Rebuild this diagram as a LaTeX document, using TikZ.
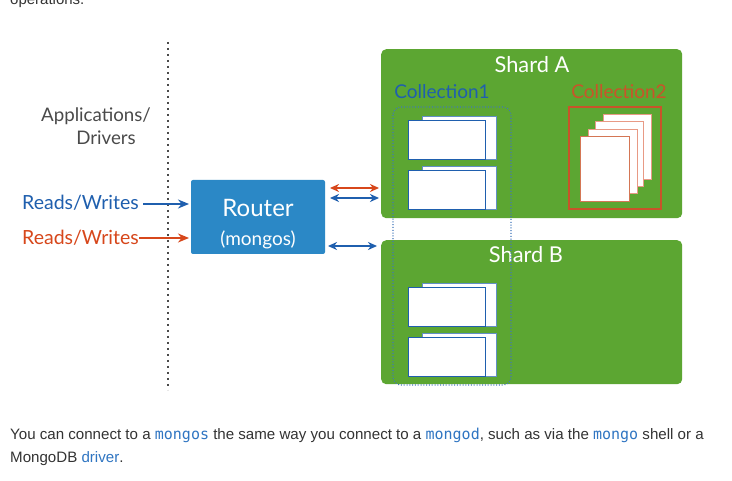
\documentclass[tikz,border=0pt]{standalone}
\usepackage{fontspec}
\setmainfont{Liberation Sans}
\newfontfamily\diagfont{Lato}
\setmonofont{DejaVu Sans Mono}
\usetikzlibrary{arrows.meta}
\definecolor{rtblue}{HTML}{2B88C6}
\definecolor{shgreen}{HTML}{5CA632}
\definecolor{lnblue}{HTML}{1F5FAE}
\definecolor{lnred}{HTML}{D7471B}
\definecolor{c2red}{HTML}{C9542A}
\definecolor{pagered}{HTML}{E89A85}
\definecolor{txtgray}{HTML}{4A4A4A}
\definecolor{bodygray}{HTML}{333333}
\definecolor{codeblue}{HTML}{2F75C2}
\begin{document}
\begin{tikzpicture}[x=1pt,y=-1pt,
  shardbox/.style={fill=shgreen, rounded corners=5pt, draw=none},
  docback/.style={fill=white, draw=lnblue!70, line width=1pt},
  docfront/.style={fill=white, draw=lnblue, line width=1pt},
  pageback/.style={fill=white, draw=pagered, line width=1pt},
  pagefront/.style={fill=white, draw=c2red!80, line width=1pt},
  lbl/.style={font=\diagfont\fontsize{19.5}{22}\selectfont, inner sep=0pt},
  twoway/.style={{Stealth[length=9pt,width=8pt]}-{Stealth[length=9pt,width=8pt]}, line width=1.7pt},
  oneway/.style={-{Stealth[length=11pt,width=9pt]}, line width=2.3pt},
  code/.style={}
]
\useasboundingbox (0,0) rectangle (732,481);
\fill[white] (0,0) rectangle (732,481);

% page text (cut top line)
\node[anchor=base west, inner sep=0pt, text=bodygray, font=\fontsize{15}{17}\selectfont] (ops) at (10,5) {operations.};

% dotted separator
\coordinate (sepTop) at (168,42);
\coordinate (sepBot) at (168,390);
\draw[txtgray, line width=1.8pt, dash pattern=on 2.5pt off 3.5pt] (sepTop) -- (sepBot);

% Applications/Drivers
\node[lbl, text=txtgray, align=center, anchor=north, font=\diagfont\fontsize{18.7}{23}\selectfont] (apps) at (96,108) {Applications/\\\hspace*{20pt}Drivers};

% Router
\node[fill=rtblue, rounded corners=2pt, minimum width=134pt, minimum height=74pt, inner sep=0pt] (router) at (258,217) {};
\node[lbl, text=white, font=\diagfont\fontsize{24}{26}\selectfont] (rt1) at (258,208) {Router};
\node[lbl, text=white, font=\diagfont\fontsize{19}{21}\selectfont] (rt2) at (258,240) {(mongos)};

% Reads/Writes
\node[lbl, text=lnblue, anchor=west] (rw1) at (22,203) {Reads/Writes};
\node[lbl, text=lnred, anchor=west] (rw2) at (22,238) {Reads/Writes};
\coordinate (r1in) at (189,204);
\coordinate (r2in) at (189,238);
\coordinate (rw1s) at (143,204);
\coordinate (rw2s) at (139,238);
\draw[oneway, lnblue] (rw1s) -- (r1in);
\draw[oneway, lnred] (rw2s) -- (r2in);

% Shards
\node[shardbox, minimum width=301pt, minimum height=169pt, inner sep=0pt, anchor=north west] (shA) at (381,49) {};
\node[shardbox, minimum width=301pt, minimum height=144pt, inner sep=0pt, anchor=north west] (shB) at (381,240) {};
\node[lbl, text=white, font=\diagfont\fontsize{21.8}{24}\selectfont] (shAt) at (532,65) {Shard A};
\node[lbl, text=white, font=\diagfont\fontsize{21.8}{24}\selectfont] (shBt) at (526,255) {Shard B};

% router-shard arrows
\coordinate (ra1) at (330,188); \coordinate (sa1) at (379,188);
\coordinate (ra2) at (330,198); \coordinate (sa2) at (379,198);
\coordinate (ra3) at (328,246); \coordinate (sb3) at (377,246);
\draw[twoway, lnred] (ra1) -- (sa1);
\draw[twoway, lnblue] (ra2) -- (sa2);
\draw[twoway, lnblue] (ra3) -- (sb3);

% Collection labels
\node[lbl, text=lnblue, font=\diagfont\fontsize{19}{21}\selectfont] (c1) at (442,92) {Collection1};
\node[lbl, text=c2red, font=\diagfont\fontsize{19}{21}\selectfont] (c2) at (619,92) {Collection2};

% Collection1 chunks
\foreach \y in {117,167,284,334} {
  \draw[docback] (422,\y) rectangle (496,\y+43);
  \draw[docfront] (408,\y+4) rectangle (485,\y+43);
}

% Collection1 dotted outline
\draw[lnblue!85, line width=1.1pt, dash pattern=on 1pt off 1.8pt, rounded corners=8pt] (393,107) rectangle (511,385);

% Collection2
\draw[c2red, line width=1.1pt] (569,107) rectangle (661,209);
\draw[pageback] (603,115) rectangle (651,180);
\draw[pageback] (595,122) rectangle (643,187);
\draw[pageback] (588,130) rectangle (637,194);
\draw[pagefront] (580,137) rectangle (629,202);

% bottom paragraph
\node[anchor=base west, inner sep=0pt, text=bodygray, font=\fontsize{15.1}{17}\selectfont] (p1) at (10,439)
  {You can connect to a {\color{codeblue}\ttfamily\fontsize{15}{17}\selectfont mongos} the same way you connect to a {\color{codeblue}\ttfamily\fontsize{15}{17}\selectfont mongod}, such as via the {\color{codeblue}\ttfamily\fontsize{15}{17}\selectfont mongo} shell or a};
\node[anchor=base west, inner sep=0pt, text=bodygray, font=\fontsize{15.1}{17}\selectfont] (p2) at (10,462)
  {MongoDB {\color{codeblue}driver}.};
\end{tikzpicture}
\end{document}
